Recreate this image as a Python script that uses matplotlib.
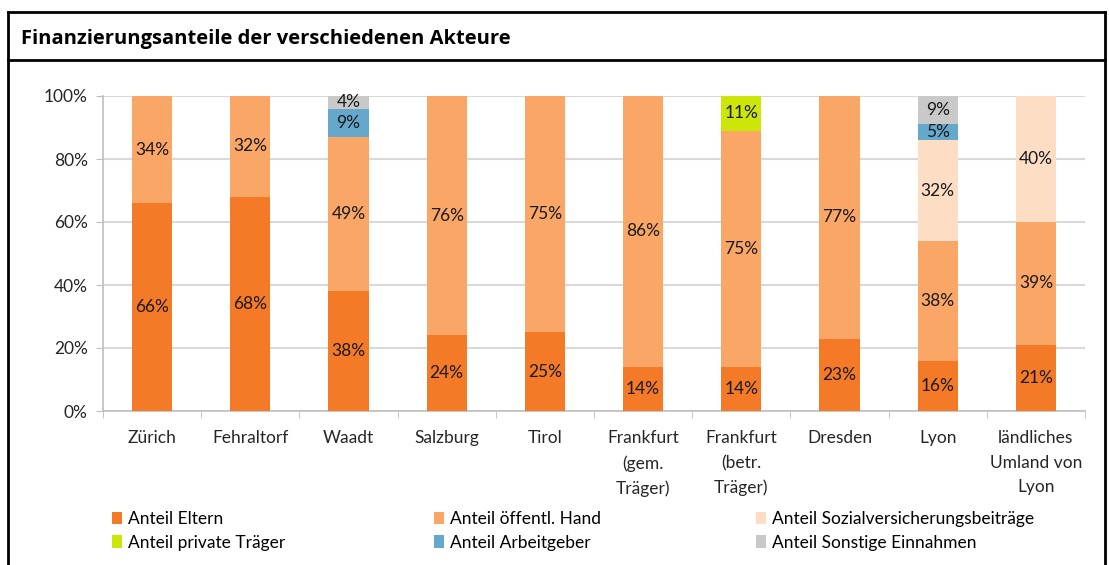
import matplotlib
matplotlib.use("Agg")
import matplotlib.pyplot as plt
from matplotlib.lines import Line2D
from matplotlib.patches import Patch
import numpy as np

plt.rcParams['font.family'] = ['Lato', 'DejaVu Sans']

staedte = ['Zürich', 'Fehraltorf', 'Waadt', 'Salzburg', 'Tirol',
           'Frankfurt\n(gem.\nTräger)', 'Frankfurt\n(betr.\nTräger)', 'Dresden',
           'Lyon', 'ländliches\nUmland von\nLyon']

eltern = [66, 68, 38, 24, 25, 14, 14, 23, 16, 21]
oeffentlich = [34, 32, 49, 76, 75, 86, 75, 77, 38, 39]
sozialvers = [0, 0, 0, 0, 0, 0, 0, 0, 32, 40]
privat = [0, 0, 0, 0, 0, 0, 11, 0, 0, 0]
arbeitgeber = [0, 0, 9, 0, 0, 0, 0, 0, 5, 0]
sonstige = [0, 0, 4, 0, 0, 0, 0, 0, 9, 0]

reihen = [
    ('Anteil Eltern', eltern, '#F57A28'),
    ('Anteil öffentl. Hand', oeffentlich, '#FAA666'),
    ('Anteil Sozialversicherungsbeiträge', sozialvers, '#FDDDC3'),
    ('Anteil private Träger', privat, '#CCE60A'),
    ('Anteil Arbeitgeber', arbeitgeber, '#65A8CC'),
    ('Anteil Sonstige Einnahmen', sonstige, '#C9C9C9'),
]

fs = 12.5

fig = plt.figure(figsize=(11.09, 5.65), dpi=100)
ax = fig.add_axes([103 / 1109, 1 - 411 / 565, 982 / 1109, 315 / 565])

x = np.arange(len(staedte))
unten = np.zeros(len(staedte))
for name, werte, farbe in reihen:
    werte = np.array(werte, dtype=float)
    ax.bar(x, werte / 100, 0.41, bottom=unten / 100, color=farbe,
           label=name, zorder=3)
    for xi, w, b in zip(x, werte, unten):
        if w > 0:
            ax.text(xi, (b + w / 2) / 100, f'{int(w)}%', ha='center',
                    va='center', fontsize=fs, color='#1a1a1a', zorder=4)
    unten += werte

ax.set_xlim(-0.5, len(staedte) - 0.5)
ax.set_ylim(0, 1)
ax.set_yticks(np.arange(0, 1.01, 0.2))
ax.set_yticklabels([f'{int(v * 100)}%' for v in np.arange(0, 1.01, 0.2)],
                   fontsize=fs, color='#262626')
ax.yaxis.grid(True, color='#D9D9D9', linewidth=1.5, zorder=0)
ax.tick_params(axis='y', length=5, color='#BFBFBF', pad=6)

ax.set_xticks(x)
ax.set_xticklabels(staedte, fontsize=fs, color='#262626', linespacing=1.65)
ax.set_xticks(np.arange(-0.5, len(staedte), 1), minor=True)
ax.tick_params(axis='x', which='major', length=0, pad=14)
ax.tick_params(axis='x', which='minor', length=5, color='#BFBFBF')

for s in ['top', 'right']:
    ax.spines[s].set_visible(False)
ax.spines['left'].set_color('#BFBFBF')
ax.spines['bottom'].set_color('#BFBFBF')
ax.spines['left'].set_linewidth(1.2)
ax.spines['bottom'].set_linewidth(1.2)

# Legende: drei Spalten an festen Positionen
farben = {n: f for n, _, f in reihen}
spalten = [
    (112, ['Anteil Eltern', 'Anteil private Träger']),
    (434, ['Anteil öffentl. Hand', 'Anteil Arbeitgeber']),
    (756, ['Anteil Sozialversicherungsbeiträge', 'Anteil Sonstige Einnahmen']),
]
for xpos, namen in spalten:
    hs = [Patch(facecolor=farben[n], edgecolor='none') for n in namen]
    fig.legend(hs, namen, loc='upper left',
               bbox_to_anchor=(xpos / 1109, 1 - 511 / 565),
               frameon=False, fontsize=fs, handlelength=0.55,
               handleheight=0.75, handletextpad=0.4, labelspacing=0.45,
               borderaxespad=0, borderpad=0)

# Rahmen und Titel
rahmen = dict(color='black', linewidth=2, transform=fig.transFigure)
fig.add_artist(Line2D([8 / 1109, 8 / 1109], [0, 1 - 12 / 565], **rahmen))
fig.add_artist(Line2D([1105 / 1109, 1105 / 1109], [0, 1 - 12 / 565], **rahmen))
fig.add_artist(Line2D([8 / 1109, 1105 / 1109], [1 - 12 / 565, 1 - 12 / 565], **rahmen))
fig.add_artist(Line2D([8 / 1109, 1105 / 1109], [1 - 60 / 565, 1 - 60 / 565], **rahmen))
fig.text(21 / 1109, 1 - 39 / 565, 'Finanzierungsanteile der verschiedenen Akteure',
         fontsize=14.5, fontweight='bold', va='center', ha='left',
         family=['Open Sans', 'DejaVu Sans'])

fig.savefig('out.png', dpi=100)
